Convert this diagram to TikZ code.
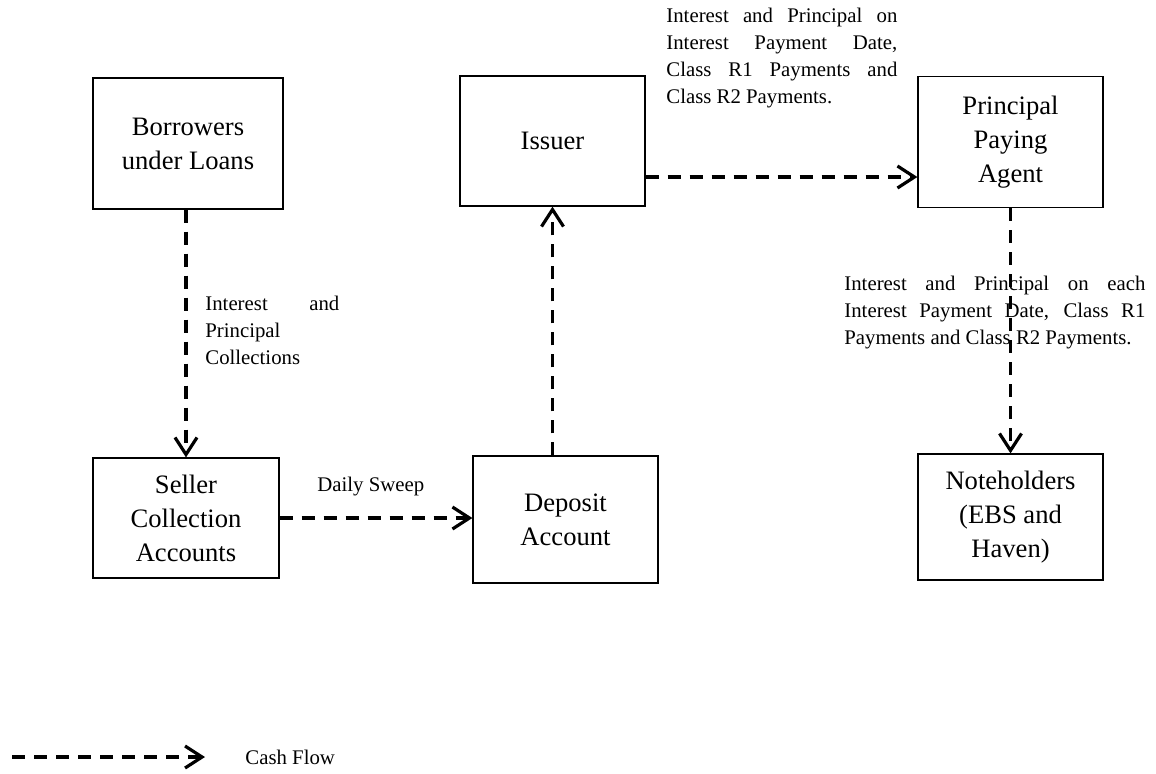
\documentclass[tikz,border=0pt]{standalone}
\usepackage{fontspec}
\setmainfont{Liberation Serif}
\usetikzlibrary{arrows.meta}
\usetikzlibrary{positioning}
\hyphenpenalty=10000
\exhyphenpenalty=10000
\tolerance=10000

\begin{document}
\begin{tikzpicture}[x=0.5pt, y=-0.5pt,
  box/.style={draw, line width=0.6pt, inner sep=0pt, align=center,
    font=\fontsize{13.3}{17}\selectfont},
  flow/.style={line width=1.6pt, dash pattern=on 6.5pt off 4.5pt,
    -{Straight Barb[length=8.5pt, width=11pt, line width=1.6pt]}},
  note/.style={inner sep=0pt, align=justify,
    font=\fontsize{10.4}{13.4}\selectfont}]
  \useasboundingbox (0,0) rectangle (1156,773);

  % boxes
  \node[box, minimum width=95pt, minimum height=65.5pt] (borrowers) at (188,143.5) {Borrowers\\under Loans};
  \node[box, minimum width=92.5pt, minimum height=65pt] (issuer) at (552.5,141) {Issuer};
  \node[box, minimum width=92.5pt, minimum height=65.5pt] (agent) at (1010.5,142) {Principal\\Paying\\Agent};
  \node[box, minimum width=93pt, minimum height=60pt] (seller) at (186,518) {Seller\\Collection\\Accounts};
  \node[box, minimum width=92.5pt, minimum height=63.5pt] (deposit) at (565.5,519.5) {Deposit\\Account};
  \node[box, minimum width=92.5pt, minimum height=63pt] (noteholders) at (1010.5,517) {Noteholders\\(EBS and\\Haven)};

  % cash flows
  \draw[flow] (seller.north |- borrowers.south) -- (seller.north);
  \draw[flow] (seller.east) -- (seller.east -| deposit.west);
  \draw[flow] (issuer.south |- deposit.north) -- (issuer.south);
  \draw[flow] ([yshift=-18pt]issuer.east) -- ([yshift=-18pt]issuer.east -| agent.west);
  \draw[flow] (agent.south) -- (noteholders.north);

  % labels
  \node[note, text width=67pt, anchor=north west] (collections) at (205,296) {Interest and\linebreak Principal\\Collections};
  \node[note, anchor=west] (sweep) at (317,487) {Daily Sweep};
  \node[note, text width=115.5pt, anchor=north west] (topay) at (666,8) {Interest and Principal on\linebreak Interest Payment Date,\linebreak Class R1 Payments and\linebreak Class R2 Payments.};
  \node[note, text width=150.5pt, anchor=north west] (tonotes) at (844,276) {Interest and Principal on each\linebreak Interest Payment Date, Class R1\linebreak Payments and Class R2 Payments.};

  % legend
  \coordinate (legstart) at (12,757);
  \coordinate (legend) at (205,757);
  \draw[flow] (legstart) -- (legend);
  \node[note, anchor=west] (legtext) at (245,757) {Cash Flow};
\end{tikzpicture}
\end{document}
